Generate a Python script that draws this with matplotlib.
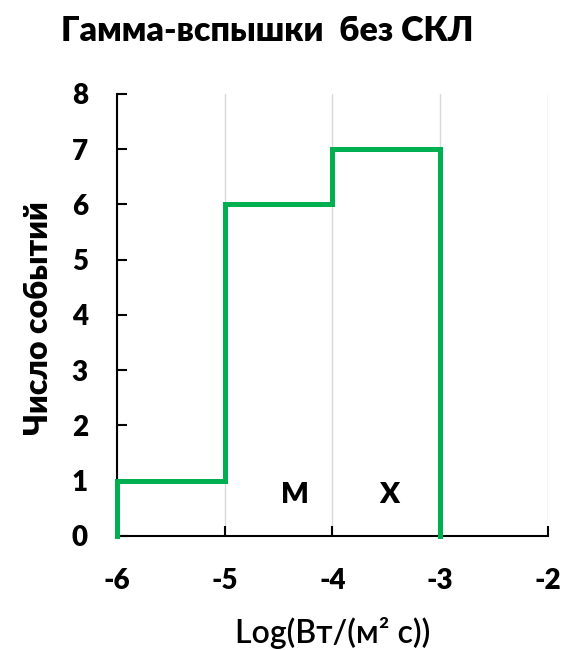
import matplotlib
matplotlib.use('Agg')
import matplotlib.pyplot as plt

plt.rcParams['font.family'] = ['Lato', 'DejaVu Sans']
plt.rcParams['axes.unicode_minus'] = False

# step histogram: bin edges and counts
edges = [-6, -5, -4, -3]
counts = [1, 6, 7]
classes = ['M', 'X']
class_x = [-4.35, -3.47]
class_y = [0.75, 0.75]

W = 'heavy'

fig = plt.figure(figsize=(5.64, 6.5), dpi=100)
ax = fig.add_axes([0.2074, 0.1754, 0.7642, 0.68])

# build the outline from bins
xs = [edges[0]]
ys = [0]
for i, c in enumerate(counts):
    xs += [edges[i], edges[i + 1]]
    ys += [c, c]
xs.append(edges[-1])
ys.append(0)
ax.plot(xs, ys, color='#00B050', lw=3.6, solid_joinstyle='miter', zorder=3, clip_on=False)

for t, x, y in zip(classes, class_x, class_y):
    ax.text(x, y, t, ha='center', va='center', fontsize=21, fontweight=W)

ax.set_xlim(-6, -2)
ax.set_ylim(0, 8)
ax.set_xticks([-6, -5, -4, -3, -2])
ax.set_yticks(range(0, 9))
ax.grid(axis='x', color='#d9d9d9', lw=1)
ax.set_axisbelow(True)
for s in ['top', 'right']:
    ax.spines[s].set_visible(False)
ax.spines['left'].set_linewidth(1.5)
ax.spines['bottom'].set_linewidth(1.5)
ax.tick_params(direction='in', length=7, width=1.5, labelsize=20)
ax.tick_params(axis='x', pad=23)
ax.tick_params(axis='y', pad=21)
for lab in ax.get_xticklabels() + ax.get_yticklabels():
    lab.set_fontweight(W)

fig.text(0.473, 0.952, 'Гамма-вспышки  без СКЛ', fontsize=24.5, fontweight=W,
         ha='center', va='center')
ax.set_ylabel('Число событий', fontsize=23, fontweight=W, va='center')
ax.yaxis.set_label_coords(-0.183, 0.493)
ax.set_xlabel('Log(Вт/(м² с))', fontsize=23, fontweight='semibold', va='center')
ax.xaxis.set_label_coords(0.501, -0.219)

fig.savefig('out.png', dpi=100)
